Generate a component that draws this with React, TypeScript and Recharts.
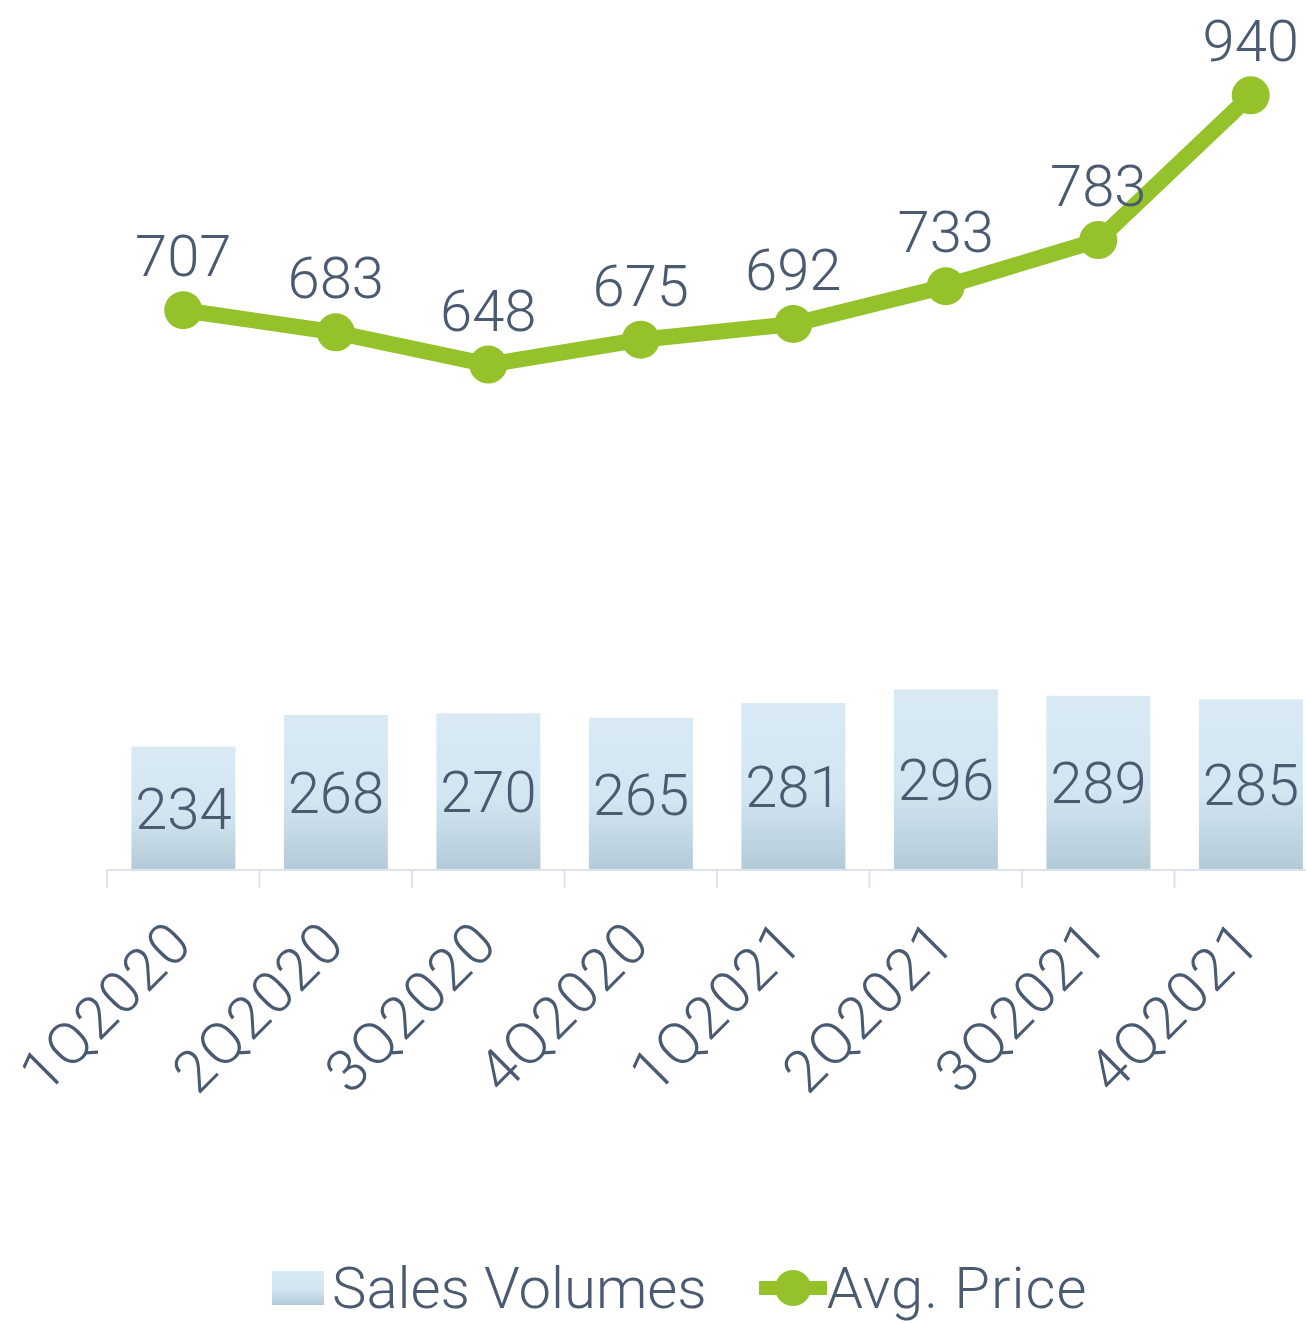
import { Bar, ComposedChart, LabelList, Legend, Line, XAxis, YAxis } from "recharts";

const categories = ["1Q2020", "2Q2020", "3Q2020", "4Q2020", "1Q2021", "2Q2021", "3Q2021", "4Q2021"];
const salesVolumes = [234, 268, 270, 265, 281, 296, 289, 285];
const avgPrice = [707, 683, 648, 675, 692, 733, 783, 940];
const valueDomain = [100, 1000];

const data = categories.map((cat, i) => ({
  cat,
  sales: salesVolumes[i],
  price: avgPrice[i],
}));

const GREEN = "#95c12b";
const TEXT = "#4a5a70";
const FONT = "Roboto, 'Open Sans', sans-serif";

function CategoryTick(props: any) {
  const { x, y, payload, width, visibleTicksCount } = props;
  const half = width && visibleTicksCount ? width / visibleTicksCount / 2 : 76;
  const tx = x + 12;
  const ty = y + 76;
  return (
    <g>
      <line x1={x - half} x2={x - half} y1={y} y2={y + 18} stroke="#dde3ea" strokeWidth={2} />
      <text
        x={tx}
        y={ty}
        transform={`rotate(-45, ${tx}, ${ty})`}
        textAnchor="end"
        fill={TEXT}
        fontSize={59}
        letterSpacing={1.5}
        fontWeight={300}
        fontFamily={FONT}
      >
        {payload.value}
      </text>
    </g>
  );
}

function LegendContent() {
  return (
    <div style={{ display: "flex", alignItems: "center", height: 70, fontFamily: FONT, fontWeight: 300, fontSize: 58, color: TEXT }}>
      <svg width={52} height={34} style={{ marginRight: 8 }}>
        <defs>
          <linearGradient id="legendBar" x1="0" y1="0" x2="0" y2="1">
            <stop offset="0%" stopColor="#d9eaf5" />
            <stop offset="55%" stopColor="#d2e5f1" />
            <stop offset="100%" stopColor="#b3cad8" />
          </linearGradient>
        </defs>
        <rect width={52} height={34} fill="url(#legendBar)" />
      </svg>
      <span>Sales Volumes</span>
      <svg width={68} height={40} style={{ marginLeft: 52, marginRight: 0 }}>
        <line x1={2} x2={66} y1={20} y2={20} stroke={GREEN} strokeWidth={14} strokeLinecap="round" />
        <circle cx={34} cy={20} r={18} fill={GREEN} />
      </svg>
      <span style={{ letterSpacing: 1 }}>Avg. Price</span>
    </div>
  );
}

export default function App() {
  return (
    <div style={{ position: "absolute", left: 0, top: 0, width: 1306, height: 1323, overflow: "hidden", background: "#fff" }}>
      <ComposedChart
        width={1330}
        height={1323}
        data={data}
        margin={{ top: 40, right: 3, left: 107, bottom: 0 }}
        barCategoryGap="16%"
      >
        <defs>
          <linearGradient id="barFill" x1="0" y1="0" x2="0" y2="1">
            <stop offset="0%" stopColor="#d9eaf5" />
            <stop offset="55%" stopColor="#d2e5f1" />
            <stop offset="100%" stopColor="#b3cad8" />
          </linearGradient>
        </defs>
        <XAxis
          dataKey="cat"
          height={383}
          axisLine={{ stroke: "#dde3ea", strokeWidth: 2 }}
          tickLine={false}
          tickSize={0}
          tickMargin={0}
          interval={0}
          tick={<CategoryTick />}
        />
        <YAxis hide domain={valueDomain} allowDataOverflow />
        <Legend
          verticalAlign="bottom"
          wrapperStyle={{ left: 272, width: 900, height: 70, bottom: 0 }}
          content={<LegendContent />}
        />
        <Bar dataKey="sales" name="Sales Volumes" fill="url(#barFill)" isAnimationActive={false}>
          <LabelList
            dataKey="sales"
            position="center"
            fill={TEXT}
            fontSize={58}
            fontWeight={300}
            fontFamily={FONT}
          />
        </Bar>
        <Line
          dataKey="price"
          name="Avg. Price"
          stroke={GREEN}
          strokeWidth={16}
          dot={{ r: 19, fill: GREEN, stroke: "none" }}
          activeDot={false}
          isAnimationActive={false}
        >
          <LabelList
            dataKey="price"
            position="top"
            offset={34}
            fill={TEXT}
            fontSize={58}
            fontWeight={300}
            fontFamily={FONT}
          />
        </Line>
      </ComposedChart>
    </div>
  );
}
